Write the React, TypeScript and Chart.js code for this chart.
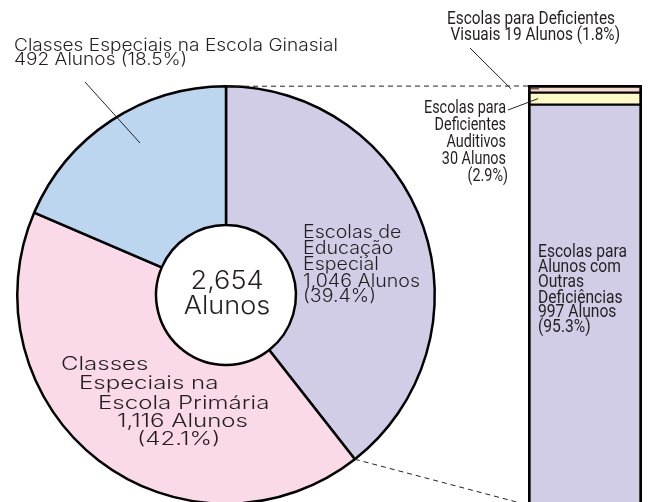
import React, { useEffect, useRef } from "react";
import { Chart, registerables } from "chart.js";
Chart.register(...registerables);

// ---- data ----
const pieLabels = [
  "Escolas de Educação Especial",
  "Classes Especiais na Escola Primária",
  "Classes Especiais na Escola Ginasial",
];
const pieLabelLines = [
  ["Escolas de", "Educação", "Especial"],
  ["Classes", "Especiais na", "Escola Primária"],
  ["Classes Especiais na Escola Ginasial"],
];
const pieValues = [1046, 1116, 492];
const pieShares = ["39.4%", "42.1%", "18.5%"];
const pieColors = ["#D1CDE6", "#FADAE8", "#BCD6EF"];
const totalStudents = 2654;

const barLabels = [
  "Escolas para Alunos com Outras Deficiências",
  "Escolas para Deficientes Auditivos",
  "Escolas para Deficientes Visuais",
];
const barLabelLines = [
  ["Escolas para", "Alunos com", "Outras", "Deficiências"],
  ["Escolas para", "Deficientes", "Auditivos"],
  ["Escolas para Deficientes", "Visuais"],
];
const barValues = [997, 30, 19];
const barShares = ["95.3%", "2.9%", "1.8%"];
const barColors = ["#D1CDE6", "#FFF9C8", "#FCDACB"];
const unitWord = "Alunos";

const fmt = (n: number) => n.toLocaleString("en-US");
const TEXT = "#231f20";
const W = 651;
const H = 520;

function drawLines(
  ctx: CanvasRenderingContext2D,
  lines: string[],
  xs: number[],
  ys: number[],
  font: string,
  refIdx: number,
  refW: number,
  align: CanvasTextAlign
) {
  ctx.save();
  ctx.font = font;
  const sx = refW / ctx.measureText(lines[refIdx]).width;
  ctx.fillStyle = TEXT;
  ctx.textBaseline = "alphabetic";
  ctx.textAlign = align;
  lines.forEach((t, i) => {
    ctx.save();
    ctx.translate(xs[i], ys[i]);
    ctx.scale(sx, 1);
    ctx.fillText(t, 0, 0);
    ctx.restore();
  });
  ctx.restore();
}

function line(ctx: CanvasRenderingContext2D, pts: number[][], dash: number[] = []) {
  ctx.save();
  ctx.strokeStyle = "#222";
  ctx.lineWidth = 1;
  ctx.setLineDash(dash);
  ctx.beginPath();
  pts.forEach((p, i) => (i === 0 ? ctx.moveTo(p[0], p[1]) : ctx.lineTo(p[0], p[1])));
  ctx.stroke();
  ctx.restore();
}

export default function App() {
  const pieRef = useRef<HTMLCanvasElement>(null);
  const barRef = useRef<HTMLCanvasElement>(null);

  useEffect(() => {
    const sans = (s: number) => `300 ${s}px Inter, "Noto Sans", sans-serif`;
    const narrow = (s: number) => `${s}px Roboto, "Liberation Sans", sans-serif`;

    const pie = new Chart(pieRef.current!, {
      type: "doughnut",
      data: {
        labels: pieLabels,
        datasets: [
          {
            data: pieValues,
            backgroundColor: pieColors,
            borderColor: "#000",
            borderWidth: 2.5,
          },
        ],
      },
      options: {
        responsive: false,
        animation: false,
        cutout: "33.5%",
        layout: { padding: { left: 16, top: 85, right: 215, bottom: 15 } },
        plugins: { legend: { display: false }, tooltip: { enabled: false } },
      },
    });

    const barTotal = barValues.reduce((a, b) => a + b, 0);
    const n = barValues.length;

    const annotate = {
      id: "annotate",
      afterDraw(chart: any) {
        const ctx: CanvasRenderingContext2D = chart.ctx;
        const pm = pie.getDatasetMeta(0).data as any[];
        const a0 = pm[0];
        const cx = a0.x, cy = a0.y, R = a0.outerRadius;
        const b0 = chart.getDatasetMeta(0).data[0] as any;
        const bTop = chart.getDatasetMeta(n - 1).data[0] as any;
        const bLeft = b0.x - b0.width / 2;
        const bBottom = b0.base;
        const bTopY = bTop.y;

        // connector dashed lines
        line(ctx, [[cx, cy - R], [bLeft, bTopY + 1]], [5, 4]);
        const ea = a0.endAngle;
        line(ctx, [[cx + R * Math.cos(ea), cy + R * Math.sin(ea)], [bLeft, bBottom]], [5, 4]);

        // leader lines
        line(ctx, [[85, 82], [140, 143]]);
        const vis = chart.getDatasetMeta(2).data[0] as any;
        const aud = chart.getDatasetMeta(1).data[0] as any;
        const visY = (vis.y + vis.base) / 2;
        const audY = (aud.y + aud.base) / 2;
        line(ctx, [[470, 48], [511, visY]]);
        line(ctx, [[bLeft, visY], [bLeft + 11, visY]]);
        line(ctx, [[508, 110], [bLeft + 10, audY]]);

        // pie labels
        drawLines(
          ctx,
          [pieLabelLines[2][0], `${fmt(pieValues[2])} ${unitWord} (${pieShares[2]})`],
          [14, 14],
          [51, 65],
          sans(17),
          0,
          324,
          "left"
        );
        drawLines(
          ctx,
          [...pieLabelLines[0], `${fmt(pieValues[0])} ${unitWord}`, `(${pieShares[0]})`],
          [303, 303, 303, 303, 303],
          [238, 254, 270, 287, 302],
          sans(18),
          3,
          117,
          "left"
        );
        drawLines(
          ctx,
          [...pieLabelLines[1], `${fmt(pieValues[1])} ${unitWord}`, `(${pieShares[1]})`],
          [61, 79, 98, 117, 137],
          [370, 389, 409, 427, 445],
          sans(18),
          3,
          131,
          "left"
        );
        drawLines(
          ctx,
          [fmt(totalStudents), unitWord],
          [cx + 1, cx + 1],
          [289, 314],
          sans(25),
          0,
          73,
          "center"
        );

        // bar labels
        drawLines(
          ctx,
          [...barLabelLines[0], `${barValues[0]} ${unitWord}`, `(${barShares[0]})`],
          [538, 538, 538, 538, 538, 538],
          [257, 272, 287, 303, 317, 332],
          narrow(18),
          0,
          89,
          "left"
        );
        drawLines(
          ctx,
          [...barLabelLines[1], `${barValues[1]} ${unitWord}`, `(${barShares[1]})`],
          [506, 506, 506, 506, 508],
          [113, 130, 147, 164, 181],
          narrow(18),
          0,
          82,
          "right"
        );
        drawLines(
          ctx,
          [barLabelLines[2][0], `${barLabelLines[2][1]} ${barValues[2]} ${unitWord} (${barShares[2]})`],
          [615, 620],
          [24, 40],
          narrow(18),
          0,
          168,
          "right"
        );
      },
    };

    const bar = new Chart(barRef.current!, {
      type: "bar",
      data: {
        labels: [""],
        datasets: barValues.map((v, i) => ({
          label: barLabels[i],
          data: [v],
          backgroundColor: barColors[i],
          borderColor: "#000",
          borderWidth: {
            left: 3,
            right: 3,
            top: i === n - 1 ? 3 : 1.5,
            bottom: i === 0 ? 3 : 1.5,
          },
          borderSkipped: false,
          barPercentage: 1,
          categoryPercentage: 1,
        })),
      },
      options: {
        responsive: false,
        animation: false,
        layout: { padding: { left: 528, right: 9, top: 85, bottom: 15 } },
        scales: {
          x: { display: false, stacked: true },
          y: { display: false, stacked: true, min: 0, max: barTotal },
        },
        plugins: { legend: { display: false }, tooltip: { enabled: false } },
      },
      plugins: [annotate],
    });

    return () => {
      bar.destroy();
      pie.destroy();
    };
  }, []);

  return (
    <div
      style={{
        position: "fixed",
        left: 0,
        top: 0,
        width: W,
        height: 502,
        overflow: "hidden",
        background: "#fff",
      }}
    >
      <canvas ref={pieRef} width={W} height={H} style={{ position: "absolute", left: 0, top: 0 }} />
      <canvas ref={barRef} width={W} height={H} style={{ position: "absolute", left: 0, top: 0 }} />
    </div>
  );
}
